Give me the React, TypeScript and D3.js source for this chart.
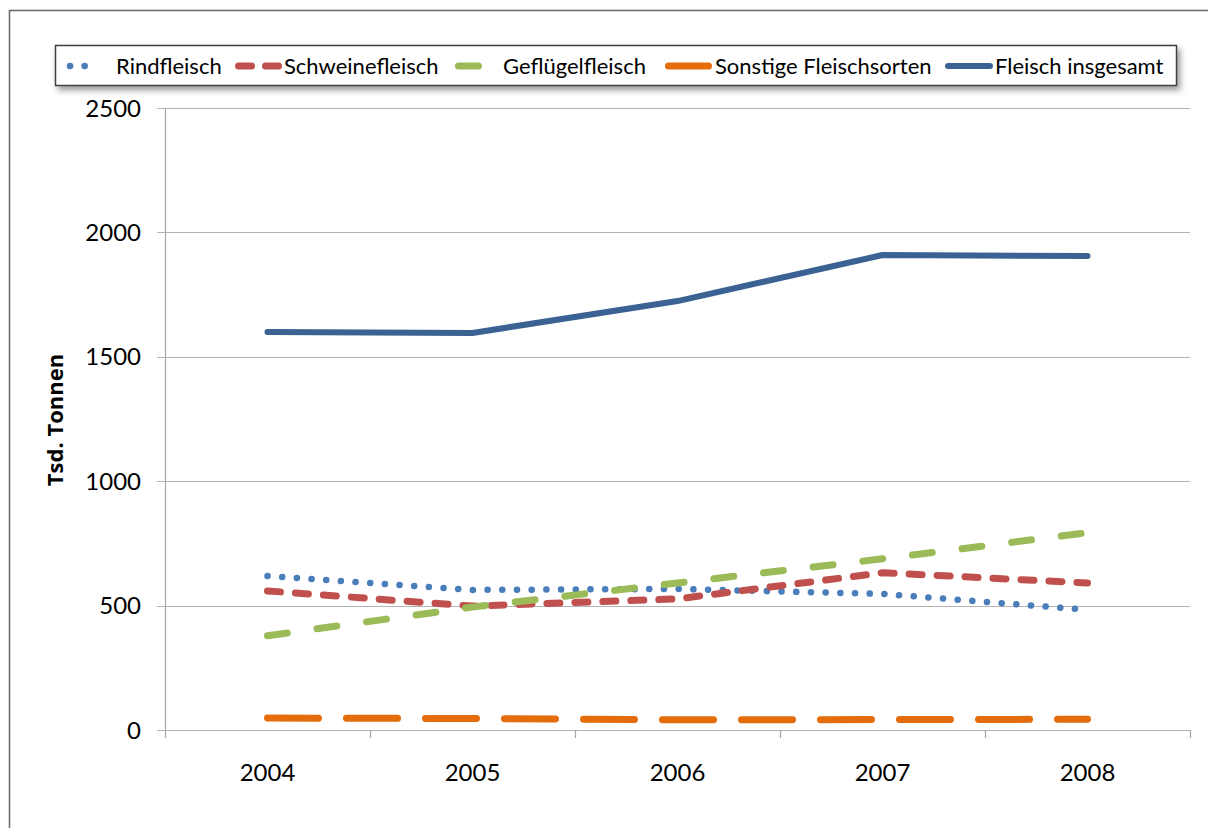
import React from "react";
import * as d3 from "d3";

// Meat production in thousand tonnes, 2004–2008
const years = ["2004", "2005", "2006", "2007", "2008"];
const rindfleisch = [619, 563, 567, 547, 483];
const schweinefleisch = [559, 498, 527, 632, 591];
const gefluegelfleisch = [379, 494, 591, 688, 793];
const sonstige = [48, 46, 41, 42, 43];
const insgesamt = [1600, 1596, 1724, 1909, 1905];
const yTicks = [0, 500, 1000, 1500, 2000, 2500];

const seriesNames = [
  "Rindfleisch",
  "Schweinefleisch",
  "Geflügelfleisch",
  "Sonstige Fleischsorten",
  "Fleisch insgesamt",
];

const W = 1208;
const H = 828;
const plot = { left: 165, right: 1190, top: 108, bottom: 730 };

type Style = { color: string; width: number; dash: string };
const styles: Style[] = [
  { color: "#4A7EBB", width: 6.5, dash: "0.1 14.6" },
  { color: "#C0504D", width: 7, dash: "13 15" },
  { color: "#9BBB59", width: 7, dash: "20 30" },
  { color: "#E46C0A", width: 7, dash: "51 28" },
  { color: "#3A6292", width: 6, dash: "" },
];

// legend layout: sample start/end and text start for each entry
const legendLayout = [
  { x0: 70, x1: 99, tx: 116, dash: "0.1 14.5" },
  { x0: 238.5, x1: 278.5, tx: 284, dash: "13 14" },
  { x0: 458.5, x1: 478.5, tx: 503, dash: "" },
  { x0: 668.5, x1: 708.5, tx: 715, dash: "" },
  { x0: 948, x1: 990, tx: 995, dash: "" },
];

const tickFont = "Lato, 'Open Sans', sans-serif";

export default function App() {
  const data = [rindfleisch, schweinefleisch, gefluegelfleisch, sonstige, insgesamt];

  const x = d3.scaleBand<string>().domain(years).range([plot.left, plot.right]);
  const y = d3.scaleLinear().domain([0, 2500]).range([plot.bottom, plot.top]);

  const line = d3
    .line<number>()
    .x((_, i) => (x(years[i]) as number) + x.bandwidth() / 2)
    .y((d) => y(d));

  const boundaries = years.map((yr) => x(yr) as number).concat([plot.right]);

  return (
    <svg
      width={W}
      height={H}
      style={{ position: "absolute", left: 0, top: 0, display: "block", background: "#fff" }}
    >
      <defs>
        <filter id="legendShadow" x="-5%" y="-40%" width="110%" height="200%">
          <feDropShadow dx="3" dy="4" stdDeviation="3" floodColor="#000" floodOpacity="0.4" />
        </filter>
      </defs>

      {/* outer chart frame */}
      <rect x={9.5} y={10.5} width={1230} height={850} fill="#fff" stroke="#6e6e6e" strokeWidth={1.6} />

      {/* gridlines */}
      {yTicks.map((t) => (
        <line
          key={`g${t}`}
          x1={plot.left - 8}
          x2={plot.right}
          y1={Math.round(y(t)) + 0.5}
          y2={Math.round(y(t)) + 0.5}
          stroke="#b4b4b4"
          strokeWidth={1.2}
        />
      ))}

      {/* y axis */}
      <line x1={plot.left + 0.5} x2={plot.left + 0.5} y1={plot.top} y2={plot.bottom} stroke="#a6a6a6" strokeWidth={1.2} />
      {yTicks.map((t) => (
        <text
          key={`yl${t}`}
          x={141}
          y={y(t)}
          dy="0.36em"
          textAnchor="end"
          fontFamily={tickFont}
          fontSize={24}
          fill="#000"
        >
          {t}
        </text>
      ))}

      {/* x axis */}
      {boundaries.map((b, i) => (
        <line
          key={`xt${i}`}
          x1={b + 0.5}
          x2={b + 0.5}
          y1={plot.bottom}
          y2={plot.bottom + 8}
          stroke="#a6a6a6"
          strokeWidth={1.2}
        />
      ))}
      {years.map((yr) => (
        <text
          key={`xl${yr}`}
          x={(x(yr) as number) + x.bandwidth() / 2}
          y={781}
          textAnchor="middle"
          fontFamily={tickFont}
          fontSize={24}
          fill="#000"
        >
          {yr}
        </text>
      ))}

      {/* axis title */}
      <text
        transform={`translate(63, 420) rotate(-90)`}
        textAnchor="middle"
        fontFamily="'Open Sans', sans-serif"
        fontWeight={700}
        fontSize={22}
        fill="#000"
      >
        Tsd. Tonnen
      </text>

      {/* series */}
      {data.map((vals, i) => (
        <path
          key={seriesNames[i]}
          d={line(vals) as string}
          fill="none"
          stroke={styles[i].color}
          strokeWidth={styles[i].width}
          strokeDasharray={styles[i].dash || undefined}
          strokeLinecap="round"
          strokeLinejoin="round"
        />
      ))}

      {/* legend */}
      <rect x={55.5} y={45.5} width={1121} height={40} fill="#fff" stroke="#404040" strokeWidth={1.5} filter="url(#legendShadow)" />
      {seriesNames.map((name, i) => {
        const l = legendLayout[i];
        return (
          <g key={`lg${i}`}>
            <line
              x1={l.x0}
              x2={l.x1}
              y1={66}
              y2={66}
              stroke={styles[i].color}
              strokeWidth={styles[i].width}
              strokeDasharray={l.dash || undefined}
              strokeLinecap="round"
            />
            <text x={l.tx} y={66} dy="0.36em" fontFamily={tickFont} fontSize={22} fill="#000">
              {name}
            </text>
          </g>
        );
      })}
    </svg>
  );
}
